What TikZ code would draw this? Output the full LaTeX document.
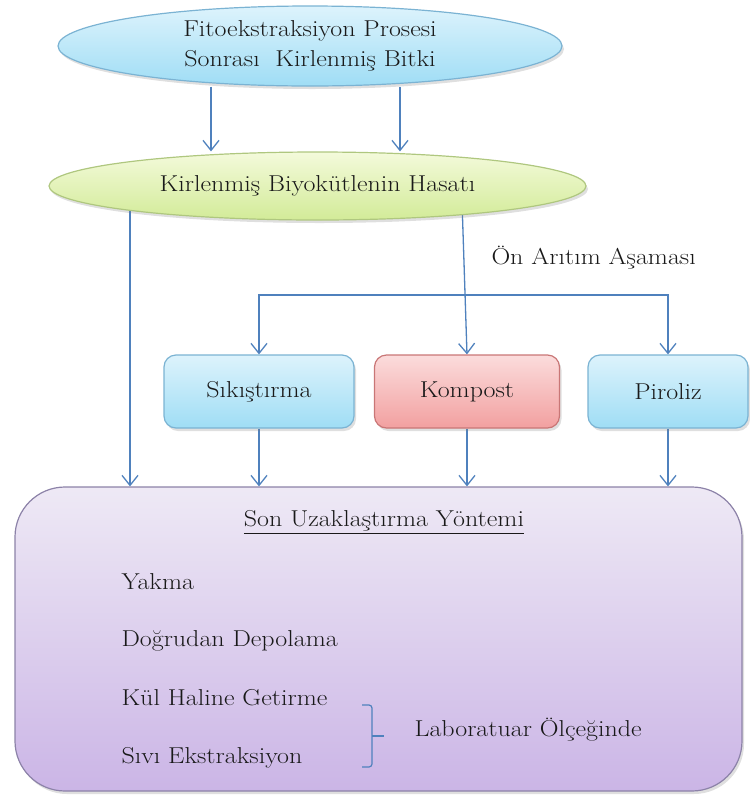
\documentclass[tikz,border=0pt]{standalone}
\usepackage{fontspec}
\setmainfont{Latin Modern Roman}[FakeStretch=1.13]
\usepackage{xcolor}
\usepackage{tikz}
\usetikzlibrary{shapes.geometric,arrows.meta,shadows,backgrounds}
\definecolor{arrowBlue}{HTML}{4F81BD}
\definecolor{skyTop}{HTML}{DDF3FC}
\definecolor{skyBot}{HTML}{9FDDF5}
\definecolor{skyLine}{HTML}{7BB3D3}
\definecolor{limeTop}{HTML}{F4FADB}
\definecolor{limeBot}{HTML}{D2EB98}
\definecolor{limeLine}{HTML}{AFC77F}
\definecolor{roseTop}{HTML}{FBDCDC}
\definecolor{roseBot}{HTML}{F2A0A0}
\definecolor{roseLine}{HTML}{C97676}
\definecolor{lilacTop}{HTML}{EEE9F5}
\definecolor{lilacBot}{HTML}{CBB5E6}
\definecolor{lilacLine}{HTML}{8C82A8}

\begin{document}
\begin{tikzpicture}[x=1pt, y=-1pt,
        every node/.style={font=\fontsize{23}{30}\selectfont, text=black!90},
        arr/.style={draw=arrowBlue, line width=1.3pt, -{Straight Barb[length=10pt,width=16pt]}},
        softshadow/.style={drop shadow={opacity=0.25, shadow xshift=2pt, shadow yshift=-3pt}},
        blob/.style={ellipse, draw=#1Line, line width=1.2pt, top color=#1Top, bottom color=#1Bot, inner sep=0pt, align=center, softshadow},
        stepbox/.style={rectangle, rounded corners=12pt, draw=#1Line, line width=1.2pt, top color=#1Top, bottom color=#1Bot, minimum height=73pt, softshadow}]
                \useasboundingbox (0,0) rectangle (750,796);
                \node[blob=sky, minimum width=504pt, minimum height=80pt] (plant) at (310,46) {Fitoekstraksiyon Prosesi\\Sonrası\ \ Kirlenmiş Bitki};
                \node[blob=lime, minimum width=537pt, minimum height=68pt] (harvest) at (317.5,186) {Kirlenmiş Biyokütlenin Hasatı};
                \node[anchor=west] (pretreat) at (488,258) {Ön Arıtım Aşaması};
                \node[stepbox=sky, minimum width=190pt] (press) at (259,391.5) {Sıkıştırma};
                \node[stepbox=rose, minimum width=185pt] (compost) at (467,391.5) {Kompost};
                \node[stepbox=sky, minimum width=160pt] (pyro) at (668,391.5) {Piroliz};
                \node[rectangle, rounded corners=50pt, draw=lilacLine, line width=1.2pt, top color=lilacTop, bottom color=lilacBot, minimum width=727pt, minimum height=304pt, softshadow] (final) at (378.5,639) {};
                \node (finaltitle) at (384,522) {\underline{Son Uzaklaştırma Yöntemi}};
                \foreach \txt/\y/\name in {Yakma/582/burn, Doğrudan Depolama/641/store, Kül Haline Getirme/698/ash, Sıvı Ekstraksiyon/758/liquid}
                    \node[anchor=west] (\name) at (118,\y) {\txt};
                \draw[draw=arrowBlue, line width=1.2pt, rounded corners=3pt] (362,705) -- (372,705) -- (372,767) -- (362,767);
                \draw[draw=arrowBlue, line width=1.2pt] (372,736) -- (384,736);
                \node[anchor=west] (lab) at (411,730) {Laboratuar Ölçeğinde};
                \begin{scope}[on background layer]
                    \draw[arr] ([xshift=-99pt]plant.south) -- ([xshift=-99pt]plant.south |- harvest.north);
                    \draw[arr] ([xshift=90pt]plant.south) -- ([xshift=90pt]plant.south |- harvest.north);
                    \draw[arr] ([xshift=-187.5pt]harvest.center) -- ([xshift=-187.5pt]harvest.center |- final.north);
                    \draw[arr] ([xshift=144pt]harvest.center) -- (compost.north);
                    \coordinate (split) at (compost.north |- 0,295);
                    \draw[arr] (split) -| (press.north);
                    \draw[arr] (split) -| (pyro.north);
                    \foreach \stage in {press,compost,pyro}
                        \draw[arr] (\stage.south) -- (\stage.south |- final.north);
                \end{scope}
            \end{tikzpicture}
\end{document}
